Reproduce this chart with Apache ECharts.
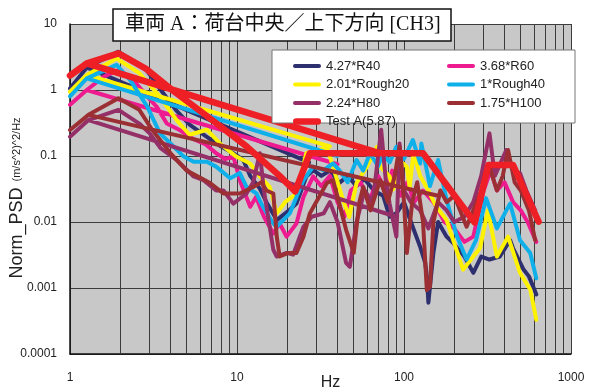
<!DOCTYPE html>
<html>
<head>
<meta charset="utf-8">
<script src="https://cdn.jsdelivr.net/npm/echarts@6/dist/echarts.min.js"></script>
<style>
  html, body { margin: 0; padding: 0; background: #fff; }
  #chart { width: 603px; height: 392px; }
</style>
</head>
<body>
<div id="chart"></div>
<script>
// Normalised PSD curves, [frequency Hz, PSD] pairs in plotting order.
const r40 = [[27,0.08],[1.26,2.2],[1,1.05],[1.26,2.2],[1.94,3.8],[2.8,2.2],[3.5,1.0],[4.3,0.5],[5.2,0.3],[6.5,0.2],[8,0.14],[9.5,0.11],[10.9,0.087],[12,0.05],[13.7,0.032],[15,0.02],[17.3,0.0107],[20.7,0.0153],[22.7,0.019],[26,0.049],[28.6,0.061],[32,0.05],[36,0.06],[41,0.039],[46,0.05],[52,0.035],[58,0.045],[66,0.03],[75,0.025],[82,0.012],[90,0.0135],[100,0.02],[110,0.01],[125,0.0042],[134,0.0024],[137,0.0015],[140,0.0006],[150,0.0034],[160,0.01],[180,0.006],[197,0.0048],[230,0.003],[260,0.0017],[290,0.003],[325,0.0027],[375,0.003],[432,0.0053],[450,0.004],[520,0.0019],[560,0.0015],[620,0.0008]];
const r60 = [[40,0.075],[1.26,1.0],[1,0.6],[1.26,1.0],[1.6,1.6],[1.95,2.0],[2.4,1.4],[2.9,0.8],[3.3,0.56],[3.8,0.31],[4.5,0.25],[5.5,0.18],[6.5,0.15],[7.5,0.11],[8.5,0.09],[9.5,0.098],[10.5,0.04],[12,0.017],[13,0.024],[14.5,0.012],[16.5,0.0067],[18,0.0095],[19.8,0.006],[22.7,0.0095],[25,0.024],[28.6,0.049],[32,0.035],[36,0.05],[40,0.02],[44,0.012],[48,0.03],[55,0.04],[62,0.02],[70,0.05],[78,0.03],[85,0.06],[95,0.025],[105,0.04],[115,0.02],[130,0.03],[150,0.02],[175,0.01],[200,0.008],[230,0.005],[260,0.006],[300,0.03],[330,0.06],[360,0.03],[400,0.04],[450,0.02],[500,0.015],[550,0.01],[620,0.005]];
const rough20 = [[36,0.14],[1.26,1.69],[1,0.94],[1.26,1.69],[1.9,3.0],[2.6,1.8],[3.46,0.79],[4.35,0.35],[5.2,0.21],[6.6,0.25],[7.9,0.155],[9.9,0.098],[12,0.077],[13.7,0.049],[15.7,0.034],[17.3,0.0135],[19.4,0.02],[22.7,0.027],[26,0.11],[30,0.12],[34.5,0.138],[37.6,0.069],[43,0.022],[47,0.012],[52,0.039],[60,0.069],[69,0.138],[72,0.069],[82,0.049],[86,0.031],[99,0.077],[104,0.069],[108,0.034],[114,0.11],[125,0.05],[140,0.03],[156,0.017],[180,0.0107],[197,0.0053],[226,0.0019],[260,0.003],[285,0.004],[318,0.015],[360,0.003],[420,0.006],[495,0.0017],[570,0.00095],[620,0.00033]];
const rough40 = [[40,0.1],[1.26,1.5],[1,0.8],[1.26,1.5],[1.9,2.4],[2.3,1.4],[2.9,0.56],[3.46,0.22],[4,0.155],[4.8,0.098],[5.5,0.082],[6.6,0.082],[7.5,0.069],[9.1,0.046],[10.4,0.055],[11.4,0.034],[13.1,0.027],[14.3,0.017],[16.5,0.0095],[17.3,0.0085],[18.9,0.0107],[20.7,0.0135],[22.7,0.024],[25,0.043],[28.6,0.069],[33,0.061],[37.6,0.077],[41,0.061],[46,0.04],[52,0.087],[57,0.06],[62.5,0.11],[70,0.07],[75,0.11],[82,0.08],[90,0.138],[100,0.09],[108,0.138],[113,0.175],[125,0.077],[127,0.155],[143,0.035],[160,0.087],[180,0.0215],[207,0.0062],[237,0.0027],[270,0.0053],[310,0.023],[360,0.008],[410,0.015],[432,0.019],[495,0.0053],[570,0.0034],[620,0.0014]];
const h80 = [[90,0.012],[1.29,0.35],[1,0.196],[1.29,0.35],[1.95,0.5],[2.6,0.31],[3.0,0.22],[3.5,0.13],[4.35,0.087],[5.5,0.049],[6.3,0.043],[7.5,0.03],[8.3,0.03],[9.5,0.019],[11.4,0.027],[12.5,0.04],[13.7,0.11],[14.5,0.03],[16.5,0.0038],[17.3,0.003],[19.8,0.0034],[21.7,0.0032],[25,0.0085],[28,0.012],[33,0.0135],[36,0.02],[40,0.01],[45,0.0024],[47.4,0.0021],[52,0.01],[58,0.03],[65,0.02],[73,0.25],[78,0.04],[82,0.019],[90,0.006],[94,0.155],[100,0.03],[110,0.02],[125,0.015],[140,0.008],[160,0.02],[180,0.015],[200,0.01],[230,0.012],[260,0.02],[290,0.05],[325,0.22],[350,0.05],[380,0.08],[410,0.123],[450,0.06],[495,0.055],[540,0.03],[610,0.015]];
const h100 = [[160,0.025],[1.29,0.42],[1,0.248],[1.29,0.42],[1.95,0.75],[2.6,0.5],[3.1,0.25],[4,0.11],[5,0.06],[6.9,0.039],[8.3,0.027],[10.4,0.027],[12.5,0.034],[14,0.04],[15,0.03],[16.5,0.027],[17.3,0.006],[18,0.003],[20.3,0.0034],[22.7,0.0034],[25,0.006],[27.3,0.0135],[31,0.024],[34.5,0.039],[37.6,0.043],[42,0.015],[45,0.0076],[50,0.0034],[54,0.02],[57,0.034],[63,0.015],[72,0.043],[80,0.02],[88,0.05],[94,0.138],[100,0.02],[104,0.0034],[112,0.02],[120,0.04],[130,0.01],[137,0.00093],[143,0.00104],[150,0.01],[165,0.03],[180,0.02],[200,0.025],[237,0.0085],[260,0.015],[290,0.03],[325,0.069],[360,0.03],[390,0.05],[420,0.123],[460,0.04],[500,0.03],[560,0.015],[610,0.0053]];
// Test profile A
const testA = [[72,0.11],[1.26,2.54],[1,1.65],[1.26,2.54],[1.95,3.6],[2.85,2.1],[4.2,0.95],[6.9,0.37],[11.4,0.14],[18,0.05],[22.3,0.029],[27.3,0.11],[130,0.11],[265,0.0098],[320,0.073],[450,0.073],[640,0.0101]];

const seriesNames = ['4.27*R40', '3.68*R60', '2.01*Rough20', '1*Rough40', '2.24*H80', '1.75*H100', 'Test A(5.87)'];
const seriesColors = ['#2e2f6e', '#ee1a8f', '#fff200', '#0fb0ea', '#952f68', '#9b2f33', '#ee1f25'];
const seriesData = [r40, r60, rough20, rough40, h80, h100, testA];

const xTickLabels = { 1: '1', 10: '10', 100: '100', 1000: '1000' };
const yTickLabels = { 0.0001: '0.0001', 0.001: '0.001', 0.01: '0.01', 0.1: '0.1', 1: '1', 10: '10' };
// intermediate log-decade grid lines (2..9 of each decade)
const minorFreqs = [2,3,4,5,6,7,8,9,20,30,40,50,60,70,80,90,200,300,400,500,600,700,800,900];

const chart = echarts.init(document.getElementById('chart'), null, { renderer: 'canvas' });

function labelOf(map, v) {
  for (const k in map) {
    if (Math.abs(Math.log10(v) - Math.log10(Number(k))) < 1e-6) return map[k];
  }
  return '';
}

const lineSeries = seriesData.map((d, i) => ({
  name: seriesNames[i],
  type: 'line',
  data: d,
  showSymbol: false,
  symbol: 'none',
  z: 2 + i * 0.01,
  color: seriesColors[i],
  lineStyle: { color: seriesColors[i], width: i === 6 ? 6.5 : 4, cap: 'round', join: 'round' }
}));

lineSeries.unshift({
  name: 'grid-minor',
  type: 'line',
  data: [],
  silent: true,
  markLine: {
    silent: true,
    symbol: ['none', 'none'],
    z: 1,
    label: { show: false },
    lineStyle: { type: 'solid', color: '#3c3c3c', width: 1 },
    emphasis: { disabled: true },
    data: minorFreqs.map(f => ({ xAxis: f }))
  }
});

// rounded bar icons for the legend (thin for curves, thick for the test profile)
const thinIcon = 'path://M2,0 L26,0 A2,2 0 0 1 26,4 L2,4 A2,2 0 0 1 2,0 Z';
const thickIcon = 'path://M3,0 L25,0 A3,3 0 0 1 25,6.5 L3,6.5 A3,3 0 0 1 3,0 Z';
const legendText = { fontFamily: "'Liberation Sans', Arial, sans-serif", fontSize: 13, color: '#222', lineHeight: 14 };
const legendItem = name => ({ name, icon: name === 'Test A(5.87)' ? thickIcon : thinIcon });
const sans = "'Liberation Sans', Arial, sans-serif";

chart.setOption({
  animation: false,
  backgroundColor: '#fff',
  title: {
    text: '車両 A：荷台中央／上下方向 [CH3]',
    left: 113,
    top: 9,
    padding: [4, 11, 4, 12],
    backgroundColor: '#fff',
    borderColor: '#111',
    borderWidth: 1.5,
    textStyle: { fontFamily: "'Liberation Serif', 'Noto Sans CJK JP', serif", fontSize: 20, lineHeight: 24, fontWeight: 'normal', color: '#111' }
  },
  grid: { left: 70, right: 32, top: 24, bottom: 38, show: true, backgroundColor: '#c8c8c8', borderWidth: 0, containLabel: false, outerBoundsMode: 'none' },
  legend: [
    {
      data: ['4.27*R40', '2.01*Rough20', '2.24*H80', 'Test A(5.87)'].map(legendItem),
      orient: 'vertical', left: 288, top: 54, itemGap: 4.5, itemWidth: 28, itemHeight: 14,
      textStyle: legendText, selectedMode: false, z: 6
    },
    {
      data: ['3.68*R60', '1*Rough40', '1.75*H100'].map(legendItem),
      orient: 'vertical', left: 442, top: 54, itemGap: 4.5, itemWidth: 28, itemHeight: 14,
      textStyle: legendText, selectedMode: false, z: 6
    }
  ],
  graphic: [{
    type: 'rect',
    z: 5,
    shape: { x: 272, y: 50, width: 303, height: 73 },
    style: { fill: '#fff', stroke: '#777', lineWidth: 1 }
  }],
  xAxis: {
    type: 'log', logBase: 10, min: 1, max: 1000,
    name: 'Hz', nameLocation: 'middle', nameGap: 21, nameMoveOverlap: false,
    nameTextStyle: { fontFamily: sans, fontSize: 16, color: '#222', padding: [0, 0, 0, 20] },
    axisLine: { show: true, lineStyle: { color: '#111', width: 1.5 } },
    axisTick: { show: false },
    axisLabel: { margin: 18, fontFamily: sans, fontSize: 12, color: '#222',
      formatter: v => labelOf(xTickLabels, v) },
    splitLine: { show: true, lineStyle: { color: '#3c3c3c', width: 1 } }
  },
  yAxis: {
    type: 'log', logBase: 10, min: 0.0001, max: 10,
    name: '{a|Norm_PSD}{b|  (m/s^2)^2/Hz}{c|}', nameLocation: 'middle', nameGap: 44, nameRotate: 90, nameMoveOverlap: false,
    nameTextStyle: {
      rich: {
        a: { fontFamily: sans, fontSize: 18, color: '#222' },
        b: { fontFamily: sans, fontSize: 11, color: '#222' },
        c: { width: 18 }
      }
    },
    axisLine: { show: true, lineStyle: { color: '#111', width: 1.5 } },
    axisTick: { show: false },
    axisLabel: { margin: 13, fontFamily: sans, fontSize: 12, color: '#222',
      formatter: v => labelOf(yTickLabels, v) },
    splitLine: { show: true, lineStyle: { color: '#3c3c3c', width: 1 } }
  },
  series: lineSeries
});
</script>
</body>
</html>
